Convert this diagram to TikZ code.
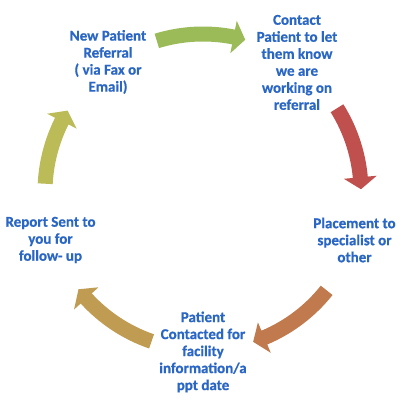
\documentclass[tikz,border=0pt]{standalone}
\usepackage{fontspec}
\setmainfont{Carlito}[BoldFeatures={FakeBold=0.6}]
\definecolor{cgreen}{HTML}{9BBB59}
\definecolor{cred}{HTML}{C0504D}
\definecolor{corange}{HTML}{C07A4E}
\definecolor{cgold}{HTML}{BF9C52}
\definecolor{colive}{HTML}{BBBB58}
\definecolor{tblue}{RGB}{42,102,196}
\begin{document}
\begin{tikzpicture}[x=1pt,y=1pt,
  txt/.style={font=\bfseries\fontsize{15}{17}\selectfont, text=tblue, align=center, inner sep=0pt}]
\useasboundingbox (0,0) rectangle (403,403);
\fill[white] (0,0) rectangle (403,403);
\coordinate (ctr) at (203,211);
\foreach \ta/\tc/\c in {107/74.5/cgreen,32/1/cred,-38.5/-71.5/corange,-109/-142/cgold,177/149/colive}{
  \pgfmathsetmacro\tb{\tc+4.35}
  \fill[\c, shift={(ctr)}] (\ta:165.5) arc[start angle=\ta, end angle=\tb, radius=165.5]
     -- (\tb:174.5) -- (\tc:158) -- (\tb:141.5) -- (\tb:150.5)
     arc[start angle=\tb, end angle=\ta, radius=150.5] -- cycle;
}
\node[txt] (n1) at (108,341) {New Patient\\Referral\hspace{27pt}\\( via Fax or\hspace{7pt}\\Email)};
\node[txt] (n2) at (297,340.6) {Contact\\Patient to let\\them know\\we are\\working on\\referral};
\node[txt] (n3) at (354.5,163) {Placement to\\specialist or\\other};
\node[txt] (n4) at (203,51) {Patient\\Contacted for\\facility\\information/a\\ppt date};
\node[txt] (n5) at (50.5,163) {Report Sent to\\you for\\follow- up};
\end{tikzpicture}
\end{document}
